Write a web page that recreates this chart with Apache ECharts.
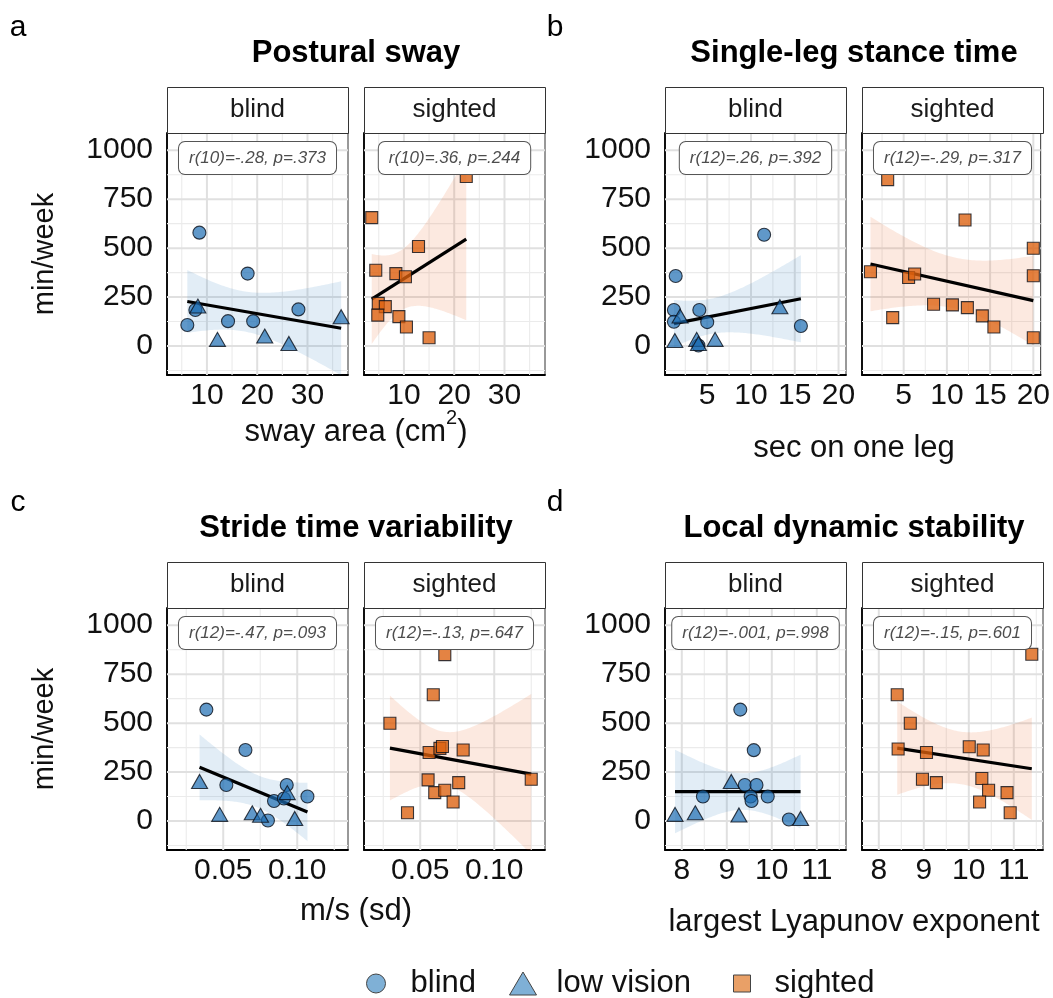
<!DOCTYPE html>
<html><head><meta charset="utf-8">
<script src="https://cdn.jsdelivr.net/npm/echarts@6/dist/echarts.min.js"></script>
<style>html,body{margin:0;padding:0;background:#fff}#c{width:1053px;height:998px}</style>
</head><body><div id="c"></div>
<script>
// ================= DATA =================
// y axis: minutes of physical activity per week
const yTicks = [0, 250, 500, 750, 1000];
const yMinor = [-125, 125, 375, 625, 875];

// a) Postural sway  [sway area (cm²), min/week]
const swayBlind   = [[8.5,579],[18.1,370],[28.2,187],[7.7,184],[6.1,107],[14.2,127],[19.2,127]];
const swayLow     = [[8.2,204],[12.1,34],[21.5,51],[26.3,13],[36.7,150]];
const swaySighted = [[22.4,866],[3.6,656],[12.9,508],[4.4,387],[8.4,370],[10.3,354],[4.9,218],[6.3,201],[4.8,158],[9.0,150],[10.5,97],[15.0,42]];
const swayTicks = [10, 20, 30];
const swayMinor = [5, 15, 25, 35];

// b) Single-leg stance time  [sec on one leg, min/week]
const stanceBlind   = [[11.5,568],[1.4,358],[1.2,184],[4.1,184],[1.2,124],[5.0,122],[15.7,102],[4.0,3]];
const stanceLow     = [[1.9,153],[13.3,201],[1.3,28],[3.8,34],[5.9,34],[4.0,13]];
const stanceSighted = [[3.15,850],[12.1,644],[20,499],[1.16,379],[20,359],[5.57,350],[6.27,368],[8.46,213],[10.64,210],[12.37,196],[14.1,154],[15.44,97],[3.73,145],[20,42]];
const stanceTicks = [5, 10, 15, 20];
const stanceMinor = [2.5, 7.5, 12.5, 17.5];

// c) Stride time variability  [m/s (sd), min/week]
const strideBlind   = [[0.0386,569],[0.065,363],[0.0521,184],[0.0929,184],[0.0843,102],[0.1069,125],[0.0802,3],[0.091,115]];
const strideLow     = [[0.034,202],[0.0476,34],[0.0696,42],[0.0752,29],[0.0983,13],[0.0933,145]];
const strideSighted = [[0.0666,850],[0.0588,645],[0.0295,499],[0.056,350],[0.0633,371],[0.065,381],[0.079,363],[0.0553,210],[0.076,196],[0.0598,145],[0.0666,157],[0.0722,97],[0.0414,42],[0.125,213]];
const strideTicks = [0.05, 0.10];
const strideMinor = [0.025, 0.075, 0.125];

// d) Local dynamic stability  [largest Lyapunov exponent, min/week]
const lyapBlind   = [[9.30,569],[9.60,362],[9.40,184],[9.66,184],[8.47,125],[9.53,125],[9.91,125],[9.55,102],[10.38,8]];
const lyapLow     = [[9.10,202],[7.85,34],[8.30,42],[9.27,31],[10.64,13]];
const lyapSighted = [[11.40,852],[8.41,645],[8.70,499],[8.43,368],[9.06,350],[10.01,379],[10.32,363],[8.97,213],[9.28,196],[10.29,217],[10.44,157],[10.85,145],[10.24,97],[10.92,42]];
const lyapTicks = [8, 9, 10, 11];
const lyapMinor = [8.5, 9.5, 10.5, 11.5];

const statBlind   = ['r(10)=-.28, p=.373', 'r(12)=.26, p=.392', 'r(12)=-.47, p=.093', 'r(12)=-.001, p=.998'];
const statSighted = ['r(10)=.36, p=.244', 'r(12)=-.29, p=.317', 'r(12)=-.13, p=.647', 'r(12)=-.15, p=.601'];
const figTitles = ['Postural sway', 'Single-leg stance time', 'Stride time variability', 'Local dynamic stability'];
const xTitles = ['{a|sway area (cm}{s|2}{a|)}', 'sec on one leg', 'm/s (sd)', 'largest Lyapunov exponent'];
const panelLetters = ['a', 'b', 'c', 'd'];
const facetNames = ['blind', 'sighted'];
const groupNames = ['blind', 'low vision', 'sighted'];
const yTitle = 'min/week';

// ================= LAYOUT / STYLE =================
const FONT = '"Liberation Sans", Arial, Helvetica, sans-serif';
const Y_RANGE = [-148, 1088];
const X_RANGES = [[2.06, 38.06], [0.18, 20.85], [0.012, 0.1343], [7.627, 11.649]];
const COLS = [[167, 364], [665, 862]];
const ROWS = [133, 608];
const PW = 181, PH = 242, STRIP = 46;
const T_CRIT = {10: 2.228139, 12: 2.178813};
const BLUE = 'rgba(28,108,178,0.70)', ORANGE = 'rgba(220,96,14,0.78)';
const BLUE_BAND = 'rgba(49,130,189,0.14)', ORANGE_BAND = 'rgba(230,85,13,0.13)';
const MAJOR = {stroke: '#e0e0e0', lineWidth: 2};
const MINOR = {stroke: '#ebebeb', lineWidth: 1.1};

const figs = [
  {blind: swayBlind, low: swayLow, sighted: swaySighted, ticks: swayTicks, minor: swayMinor, fmt: v => String(v)},
  {blind: stanceBlind, low: stanceLow, sighted: stanceSighted, ticks: stanceTicks, minor: stanceMinor, fmt: v => String(v)},
  {blind: strideBlind, low: strideLow, sighted: strideSighted, ticks: strideTicks, minor: strideMinor, fmt: v => v.toFixed(2)},
  {blind: lyapBlind, low: lyapLow, sighted: lyapSighted, ticks: lyapTicks, minor: lyapMinor, fmt: v => String(v)}
];

// ordinary least squares fit with 95% confidence band (as geom_smooth(method = "lm"))
function lmFit(pts) {
  const n = pts.length;
  const mx = pts.reduce((s, p) => s + p[0], 0) / n;
  const my = pts.reduce((s, p) => s + p[1], 0) / n;
  let sxx = 0, sxy = 0;
  pts.forEach(p => { sxx += (p[0] - mx) ** 2; sxy += (p[0] - mx) * (p[1] - my); });
  const b = sxy / sxx, a = my - b * mx;
  let sse = 0;
  pts.forEach(p => { sse += (p[1] - a - b * p[0]) ** 2; });
  const s = Math.sqrt(sse / (n - 2));
  const xs = pts.map(p => p[0]);
  return {n, mx, sxx, a, b, s, t: T_CRIT[n - 2], xmin: Math.min(...xs), xmax: Math.max(...xs)};
}
function bandOf(f, steps) {
  const out = [];
  const clamp = v => Math.max(Y_RANGE[0], Math.min(Y_RANGE[1], v));
  for (let i = 0; i <= steps; i++) {
    const x = f.xmin + (f.xmax - f.xmin) * i / steps;
    const yh = f.a + f.b * x;
    const se = f.s * Math.sqrt(1 / f.n + (x - f.mx) ** 2 / f.sxx);
    out.push([x, clamp(yh - f.t * se), clamp(yh + f.t * se)]);
  }
  return out;
}

const grid = [], xAxis = [], yAxis = [], series = [], graphic = [];

figs.forEach((fig, i) => {
  const row = i < 2 ? 0 : 1, col = i % 2;
  const T = ROWS[row];
  [0, 1].forEach(k => {
    const g = i * 2 + k;
    const L = COLS[col][k];
    grid.push({left: L, top: T, width: PW, height: PH, show: true, borderColor: '#333', borderWidth: 1, backgroundColor: 'transparent'});
    xAxis.push({
      gridIndex: g, type: 'value', min: X_RANGES[i][0], max: X_RANGES[i][1],
      axisLine: {show: true, onZero: false, lineStyle: {color: '#000', width: 1.8}},
      axisTick: {show: false}, splitLine: {show: false},
      axisLabel: {customValues: fig.ticks, formatter: fig.fmt, fontSize: 30, color: '#111', margin: 6, fontFamily: FONT}
    });
    yAxis.push({
      gridIndex: g, type: 'value', min: Y_RANGE[0], max: Y_RANGE[1],
      axisLine: {show: true, onZero: false, lineStyle: {color: '#000', width: 1.8}},
      axisTick: {show: false}, splitLine: {show: false},
      axisLabel: {show: k === 0, customValues: yTicks, formatter: v => String(v), fontSize: 30, color: '#111', margin: 14, fontFamily: FONT}
    });
    // grid lines: [value, direction (0 = vertical / x, 1 = horizontal / y), major?]
    const gl = [];
    fig.minor.forEach(v => gl.push([v, 0, 0]));
    yMinor.forEach(v => gl.push([v, 1, 0]));
    fig.ticks.forEach(v => gl.push([v, 0, 1]));
    yTicks.forEach(v => gl.push([v, 1, 1]));
    series.push({type: 'custom', xAxisIndex: g, yAxisIndex: g, silent: true, z: 1, data: gl,
      encode: {x: -1, y: -1},
      renderItem: (params, api) => {
        const v = api.value(0), dir = api.value(1), major = api.value(2);
        const cs = params.coordSys;
        let shape;
        if (dir === 0) {
          const px = api.coord([v, 0])[0];
          shape = {x1: px, y1: cs.y, x2: px, y2: cs.y + cs.height};
        } else {
          const py = api.coord([X_RANGES[i][0], v])[1];
          shape = {x1: cs.x, y1: py, x2: cs.x + cs.width, y2: py};
        }
        return {type: 'line', shape, style: Object.assign({}, major ? MAJOR : MINOR)};
      }});

    const fitPts = k === 0 ? fig.blind.concat(fig.low) : fig.sighted;
    const f = lmFit(fitPts);
    const band = bandOf(f, 80);
    series.push({type: 'custom', xAxisIndex: g, yAxisIndex: g, silent: true, z: 2,
      data: [[band[0][0], band[0][1]]],
      renderItem: (params, api) => {
        const up = band.map(p => api.coord([p[0], p[2]]));
        const lo = band.map(p => api.coord([p[0], p[1]])).reverse();
        return {type: 'polygon', shape: {points: up.concat(lo)}, style: {fill: k === 0 ? BLUE_BAND : ORANGE_BAND}};
      }});
    series.push({type: 'line', xAxisIndex: g, yAxisIndex: g, silent: true, z: 3, symbol: 'none',
      data: [[f.xmin, f.a + f.b * f.xmin], [f.xmax, f.a + f.b * f.xmax]],
      lineStyle: {color: '#000', width: 3.2}});
    const border = {borderColor: 'rgba(10,15,25,0.8)', borderWidth: 1.1, opacity: 1};
    if (k === 0) {
      series.push({type: 'scatter', name: 'blind', xAxisIndex: g, yAxisIndex: g, z: 4, data: fig.blind,
        symbol: 'circle', symbolSize: 13, itemStyle: Object.assign({color: BLUE}, border)});
      series.push({type: 'scatter', name: 'low vision', xAxisIndex: g, yAxisIndex: g, z: 4, data: fig.low,
        symbol: 'triangle', symbolSize: [16, 14], itemStyle: Object.assign({color: BLUE}, border)});
    } else {
      series.push({type: 'scatter', name: 'sighted', xAxisIndex: g, yAxisIndex: g, z: 4, data: fig.sighted,
        symbol: 'rect', symbolSize: 12, itemStyle: Object.assign({color: ORANGE}, border)});
    }
    // strip
    graphic.push({type: 'rect', z: 100, shape: {x: L + 0.5, y: T - STRIP + 0.5, width: PW, height: STRIP},
      style: {fill: '#fff', stroke: '#333', lineWidth: 1}});
    graphic.push({type: 'text', z: 101, x: L + PW / 2, y: T - STRIP / 2,
      style: {text: facetNames[k], font: '26px ' + FONT, fill: '#1a1a1a', align: 'center', verticalAlign: 'middle'}});
    // stat label
    graphic.push({type: 'text', z: 102, x: L + PW / 2, y: T + 25,
      style: {text: k === 0 ? statBlind[i] : statSighted[i], font: 'italic 17px ' + FONT, fill: '#4d4d4d',
        align: 'center', verticalAlign: 'middle', backgroundColor: '#fff', borderColor: '#555', borderWidth: 1,
        borderRadius: 6, padding: [8, 10, 7, 10]}});
  });
  const cx = (COLS[col][0] + COLS[col][1] + PW) / 2;
  graphic.push({type: 'text', z: 101, x: cx, y: row === 0 ? 53 : 528,
    style: {text: figTitles[i], font: 'bold 31px ' + FONT, fill: '#000', align: 'center', verticalAlign: 'middle'}});
  graphic.push({type: 'text', z: 101, x: col === 0 ? 18 : 555, y: row === 0 ? 28 : 503,
    style: {text: panelLetters[i], font: '30px ' + FONT, fill: '#000', align: 'center', verticalAlign: 'middle'}});
  const xtY = [428, 448, 911, 922][i];
  graphic.push({type: 'text', z: 101, x: cx, y: xtY,
    style: {text: xTitles[i], font: '31px ' + FONT, fill: '#111', align: 'center', verticalAlign: 'middle',
      rich: {a: {fontSize: 31, fontFamily: FONT, fill: '#111', lineHeight: 40, verticalAlign: 'bottom'},
             s: {fontSize: 20, fontFamily: FONT, fill: '#111', lineHeight: 40, verticalAlign: 'top'}}}});
  if (col === 0) {
    graphic.push({type: 'text', z: 101, x: 45, y: T + PH / 2, rotation: Math.PI / 2,
      style: {text: yTitle, font: '29px ' + FONT, fill: '#111', align: 'center', verticalAlign: 'middle'}});
  }
});

// legend: one component per key so each can be placed like the reference
const legText = pad => ({fontSize: 31, color: '#111', fontFamily: FONT, padding: [0, 0, 0, pad]});
const legStyle = c => ({color: c, borderColor: '#444', borderWidth: 1, opacity: 1});
const legend = [
  {left: 361, top: 963, itemWidth: 19, itemHeight: 19, selectedMode: false, textStyle: legText(20),
    data: [{name: groupNames[0], icon: 'circle', itemStyle: legStyle('#7fb0d6')}]},
  {left: 504, top: 963, itemWidth: 27, itemHeight: 23, selectedMode: false, textStyle: legText(15),
    data: [{name: groupNames[1], icon: 'triangle', itemStyle: legStyle('#7fb0d6')}]},
  {left: 728, top: 963, itemWidth: 17, itemHeight: 17, selectedMode: false, textStyle: legText(19),
    data: [{name: groupNames[2], icon: 'path://M0,0L10,0L10,10L0,10Z', itemStyle: legStyle('#e9a067')}]}
];

const chart = echarts.init(document.getElementById('c'), null, {renderer: 'canvas'});
chart.setOption({
  animation: false,
  backgroundColor: '#fff',
  grid, xAxis, yAxis, series, graphic, legend
});
</script></body></html>
